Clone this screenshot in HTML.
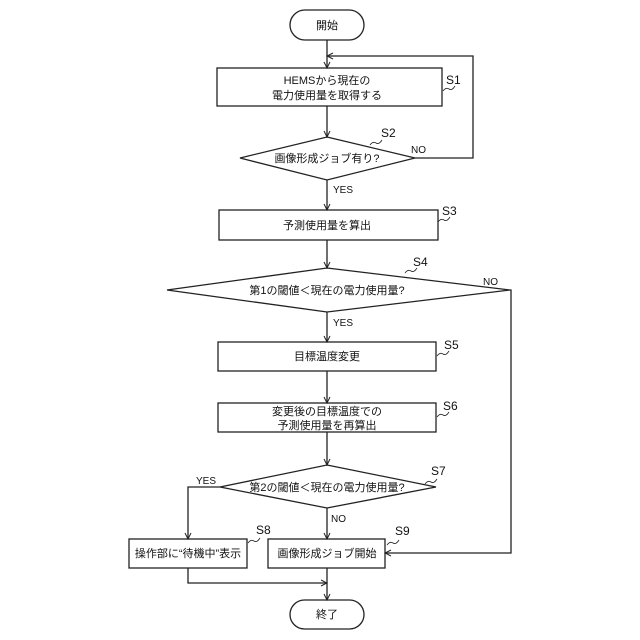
<!DOCTYPE html><html><head><meta charset="utf-8"><style>body{margin:0;background:#fff}svg{display:block}text{font-family:"Liberation Sans","Noto Sans CJK JP",sans-serif;font-size:11px;fill:#111}</style></head><body>
<svg width="640" height="640" viewBox="0 0 640 640" xmlns="http://www.w3.org/2000/svg">
<defs><marker id="a" markerWidth="8" markerHeight="8" refX="7" refY="4" orient="auto" markerUnits="userSpaceOnUse"><path d="M1,1 L7,4 L1,7" fill="none" stroke="#222" stroke-width="1"/></marker></defs>
<g fill="none" stroke="#222" stroke-width="1.3">
<rect x="290" y="10" width="74" height="30" rx="15"/>
<rect x="217" y="68" width="225" height="38"/>
<polygon points="327,137 415,158 327,180 240,158"/>
<rect x="219" y="210" width="219" height="30"/>
<polygon points="327,268 510,290 327,312 167,290"/>
<rect x="218" y="342" width="218" height="29"/>
<rect x="218" y="403" width="218" height="29"/>
<polygon points="327,465 436,487 327,508 220,487"/>
<rect x="129" y="539" width="118" height="29"/>
<rect x="268" y="539" width="117" height="29"/>
<rect x="290" y="600" width="74" height="29" rx="14.5"/>
<line x1="327" y1="40" x2="327" y2="68" marker-end="url(#a)"/>
<polyline points="415,158 473,158 473,56 327,56" marker-end="url(#a)"/>
<line x1="327" y1="106" x2="327" y2="137" marker-end="url(#a)"/>
<line x1="327" y1="180" x2="327" y2="210" marker-end="url(#a)"/>
<line x1="327" y1="240" x2="327" y2="268" marker-end="url(#a)"/>
<line x1="327" y1="312" x2="327" y2="342" marker-end="url(#a)"/>
<line x1="327" y1="371" x2="327" y2="403" marker-end="url(#a)"/>
<line x1="327" y1="432" x2="327" y2="465" marker-end="url(#a)"/>
<line x1="327" y1="508" x2="327" y2="539" marker-end="url(#a)"/>
<polyline points="220,487 188,487 188,539" marker-end="url(#a)"/>
<polyline points="510,290 511,290 511,553 385,553" marker-end="url(#a)"/>
<polyline points="188,568 188,583 327,583" marker-end="url(#a)"/>
<line x1="327" y1="568" x2="327" y2="600" marker-end="url(#a)"/>
<g stroke-width="0.8"><path d="M443,91 q3,-4 6,-2 t6,-3"/><path d="M370,145 q3,-4 6,-2 t6,-3"/><path d="M438,222 q3,-4 6,-2 t6,-3"/><path d="M405,273 q3,-4 6,-2 t6,-3"/><path d="M437,356 q3,-4 6,-2 t6,-3"/><path d="M437,417 q3,-4 6,-2 t6,-3"/><path d="M425,484 q3,-4 6,-2 t6,-3"/><path d="M248,543 q3,-4 6,-2 t6,-3"/><path d="M387,545 q3,-4 6,-2 t6,-3"/></g>
</g>
<g text-anchor="middle">
<text x="327" y="29">開始</text>
<text x="327" y="84">HEMSから現在の</text>
<text x="327" y="99">電力使用量を取得する</text>
<text x="327" y="162">画像形成ジョブ有り?</text>
<text x="327" y="229">予測使用量を算出</text>
<text x="327" y="294">第1の閾値＜現在の電力使用量?</text>
<text x="327" y="360">目標温度変更</text>
<text x="327" y="415">変更後の目標温度での</text>
<text x="327" y="429">予測使用量を再算出</text>
<text x="327" y="491">第2の閾値＜現在の電力使用量?</text>
<text x="188" y="557">操作部に“待機中”表示</text>
<text x="327" y="557">画像形成ジョブ開始</text>
<text x="327" y="618">終了</text>
</g>
<g font-size="10">
<text x="446" y="84" style="font-size:12px">S1</text>
<text x="381" y="137" style="font-size:12px">S2</text>
<text x="442" y="215" style="font-size:12px">S3</text>
<text x="413" y="266" style="font-size:12px">S4</text>
<text x="444" y="349" style="font-size:12px">S5</text>
<text x="443" y="410" style="font-size:12px">S6</text>
<text x="431" y="475" style="font-size:12px">S7</text>
<text x="256" y="534" style="font-size:12px">S8</text>
<text x="395" y="535" style="font-size:12px">S9</text>
<text x="411" y="153" style="font-size:10px">NO</text>
<text x="333" y="193" style="font-size:10px">YES</text>
<text x="483" y="285" style="font-size:10px">NO</text>
<text x="333" y="326" style="font-size:10px">YES</text>
<text x="196" y="484" style="font-size:10px">YES</text>
<text x="331" y="522" style="font-size:10px">NO</text>
</g>
</svg></body></html>
